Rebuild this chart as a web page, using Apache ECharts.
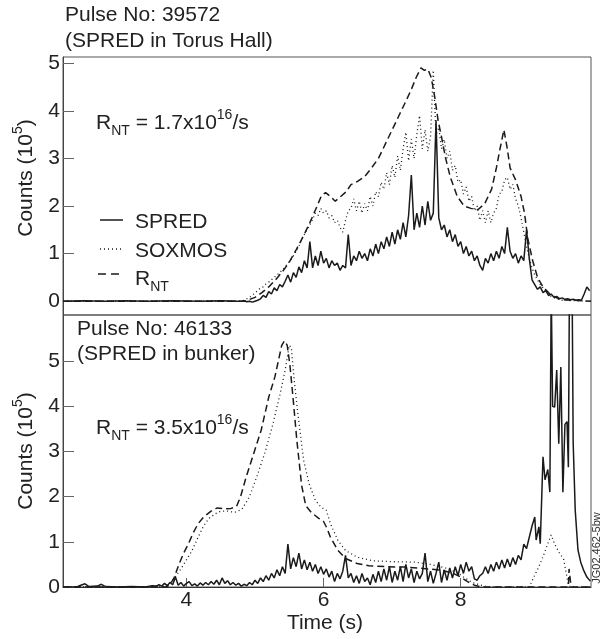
<!DOCTYPE html>
<html><head><meta charset="utf-8">
<script src="https://cdn.jsdelivr.net/npm/echarts@6/dist/echarts.min.js"></script>
<style>html,body{margin:0;padding:0;background:#fff}#c{width:602px;height:639px}</style>
</head><body><div id="c"></div>
<script>
// ---------- DATA (counts in 1e5, time in s) ----------
const xTicks = [4, 6, 8];
const yTicksTop = [0, 1, 2, 3, 4, 5];
const yTicksBot = [0, 1, 2, 3, 4, 5];

// Top panel, pulse 39572
const sprTopLead = [[2.2,0.00],[2.5,0.01],[2.8,0.00],[3.1,0.01],[3.4,0.00],[3.8,0.01],[4.2,0.00],[4.5,0.01],[4.76,0.00]];
const sprTopT0 = 4.80, sprTopDt = 0.04;
const sprTopVals = [
 0.00,0.01,-0.01,0.00,-0.02,0.00,0.02,0.05,0.12,0.08,
 0.20,0.15,0.28,0.22,0.35,0.30,0.42,0.55,0.40,0.60,
 0.50,0.72,0.60,0.85,0.70,1.25,0.70,0.95,0.75,1.05,
 0.80,0.90,0.70,0.85,0.75,0.80,0.65,0.75,0.70,1.40,
 0.75,0.95,0.85,1.05,0.90,1.00,0.85,1.10,0.95,1.20,
 1.00,1.25,1.10,1.35,1.15,1.45,1.20,1.50,1.30,1.65,
 1.35,1.80,2.65,1.50,1.85,1.55,2.00,1.60,2.10,1.70,
 1.85,3.80,1.75,1.50,1.60,1.35,1.50,1.25,1.40,1.15,
 1.25,1.00,1.15,0.95,1.05,0.85,0.95,0.75,0.65,0.90,
 0.80,1.00,0.85,1.05,0.90,1.15,1.00,1.55,1.05,0.90,
 1.00,0.80,0.95,0.85,1.50,0.90,0.45,0.35,0.25,0.30,
 0.18,0.22,0.12,0.15,0.08,0.10,0.05,0.07,0.04,0.05,
 0.03,0.04,0.02,0.03,0.02,0.15,0.30,0.22
];
const soxTopLead = [[2.2,0.00],[4.76,0.00]];
const soxTopT0 = 4.80, soxTopDt = 0.04;
const soxTopVals = [
 0.00,0.02,0.05,0.08,0.12,0.18,0.22,0.28,0.30,0.36,
 0.40,0.45,0.50,0.55,0.60,0.66,0.72,0.80,0.86,0.95,
 1.05,1.15,1.30,1.40,1.50,1.60,1.72,1.85,1.80,1.95,
 1.85,1.90,1.75,1.80,1.65,1.70,1.55,1.45,1.70,1.90,
 1.95,2.15,1.90,2.10,1.85,2.05,1.90,2.20,2.00,2.30,
 2.20,2.50,2.35,2.70,2.45,2.85,2.60,3.05,2.75,3.20,
 3.55,2.95,3.40,3.00,3.50,3.90,3.20,3.60,3.15,3.45,
 4.85,3.50,3.65,3.20,3.40,3.00,3.15,2.75,2.85,2.50,
 2.55,2.25,2.40,2.10,2.20,1.90,2.00,1.70,1.90,1.65,
 1.90,1.65,1.85,1.95,2.25,2.30,2.55,2.60,2.35,2.45,
 2.15,2.00,1.75,1.45,1.15,0.90,0.70,0.55,0.45,0.35,
 0.28,0.20,0.15,0.10,0.07,0.05,0.03,0.02
];
const soxTopTail = [[9.9,0.00]];
const rntTop = [[2.2,0],[4.85,0],[5.0,0.08],[5.1,0.18],[5.2,0.3],[5.3,0.45],[5.4,0.62],[5.5,0.82],[5.6,1.08],
 [5.7,1.35],[5.8,1.65],[5.9,1.98],[5.97,2.22],[6.03,2.28],[6.1,2.2],[6.17,2.1],[6.25,2.2],[6.33,2.3],[6.4,2.45],
 [6.5,2.52],[6.6,2.62],[6.7,2.8],[6.8,3.0],[6.9,3.3],[7.0,3.6],[7.1,3.9],[7.2,4.2],[7.28,4.45],[7.35,4.7],
 [7.42,4.9],[7.47,4.85],[7.52,4.88],[7.57,4.7],[7.62,4.3],[7.67,3.8],[7.72,3.45],[7.78,3.0],[7.85,2.6],
 [7.95,2.2],[8.05,2.0],[8.15,1.95],[8.25,1.92],[8.35,2.05],[8.45,2.35],[8.52,2.8],[8.58,3.25],[8.63,3.6],
 [8.68,3.2],[8.72,2.8],[8.8,2.55],[8.88,2.2],[8.93,1.85],[8.98,1.3],[9.05,0.85],[9.12,0.5],[9.2,0.3],
 [9.3,0.15],[9.4,0.07],[9.5,0.03],[9.9,0.0]];

// Bottom panel, pulse 46133
const sprBotLead = [[2.2,0.00],[2.4,0.00],[2.46,0.04],[2.52,0.07],[2.58,0.01],[2.7,0.02],[2.76,0.06],[2.82,0.01],
 [3.0,0.00],[3.2,0.01],[3.4,0.00],[3.5,0.03]];
const sprBotT0 = 3.56, sprBotDt = 0.04;
const sprBotVals = [
 0.02,0.05,0.02,0.08,0.03,0.10,0.05,0.22,0.04,0.10,
 0.02,0.08,0.12,0.03,0.07,0.02,0.09,0.04,0.10,0.05,
 0.12,0.06,0.15,0.05,0.20,0.08,0.14,0.05,0.10,0.04,
 0.08,0.02,0.06,0.03,0.10,0.05,0.15,0.08,0.20,0.12,
 0.25,0.15,0.30,0.20,0.38,0.25,0.45,0.30,0.95,0.40,
 0.65,0.45,0.75,0.40,0.60,0.38,0.55,0.35,0.50,0.30,
 0.45,0.28,0.40,0.22,0.35,0.12,0.30,0.18,0.35,0.70,
 0.20,0.30,0.10,0.25,0.08,0.30,0.12,0.20,0.05,0.28,
 0.10,0.35,0.12,0.40,0.15,0.45,0.10,0.35,0.15,0.45,
 0.12,0.50,0.20,0.40,0.10,0.35,0.18,0.30,0.75,0.12,
 0.35,0.08,0.30,0.55,0.10,0.38,0.15,0.42,0.20,0.45,
 0.25,0.50,0.30,0.55,0.35,0.45,0.18,0.15,0.25,0.30,
 0.45,0.30,0.50,0.35,0.55,0.40,0.60,0.42,0.62,0.45,
 0.65,0.50,0.70,0.60,0.95,0.85,1.10,1.35
];
const sprBotTail = [[9.08,1.55],[9.10,1.04],[9.14,1.33],[9.16,0.96],[9.20,2.88],[9.23,2.37],[9.27,2.60],[9.30,2.10],
 [9.32,6.6],[9.34,4.0],[9.37,3.98],[9.40,4.80],[9.43,3.17],[9.46,4.87],[9.49,2.10],[9.52,3.60],[9.55,3.66],
 [9.57,2.65],[9.585,6.6],[9.625,6.6],[9.64,3.2],[9.67,1.7],[9.71,0.82],[9.75,0.55],[9.79,0.38],[9.84,0.22],[9.89,0.13]];
const soxBot = [[2.2,0],[3.65,0],[3.72,0.05],[3.8,0.15],[3.92,0.4],[4.0,0.6],[4.08,0.8],[4.17,1.1],[4.25,1.35],
 [4.33,1.52],[4.42,1.62],[4.5,1.68],[4.6,1.68],[4.7,1.65],[4.81,1.72],[4.92,2.0],[5.04,2.5],[5.15,3.0],[5.26,3.6],
 [5.37,4.3],[5.44,4.8],[5.5,5.35],[5.53,5.3],[5.57,4.6],[5.62,3.9],[5.71,2.8],[5.79,2.28],[5.88,1.92],[5.96,1.77],
 [6.04,1.7],[6.1,1.4],[6.21,1.03],[6.32,0.81],[6.49,0.66],[6.72,0.58],[7.0,0.56],[7.33,0.55],[7.56,0.5],
 [7.78,0.42],[7.95,0.32],[8.06,0.2],[8.17,0.1],[8.34,0.02],[8.4,0],[9.0,0.0],[9.06,0.2],[9.14,0.45],[9.22,0.75],
 [9.28,1.0],[9.32,1.15],[9.37,0.95],[9.44,0.75],[9.5,0.62],[9.54,0.3],[9.57,0.05],[9.6,0],[9.9,0]];
const rntBot = [[2.2,0],[3.7,0],[3.76,0.05],[3.82,0.2],[3.89,0.5],[3.96,0.75],[4.03,0.96],[4.1,1.2],[4.17,1.4],
 [4.25,1.55],[4.36,1.68],[4.45,1.75],[4.55,1.73],[4.65,1.74],[4.73,1.78],[4.79,2.0],[4.87,2.43],[4.98,2.95],
 [5.09,3.47],[5.2,4.2],[5.29,4.65],[5.34,5.0],[5.39,5.35],[5.43,5.45],[5.47,5.35],[5.51,4.9],[5.56,4.1],
 [5.61,3.25],[5.68,2.25],[5.74,1.8],[5.82,1.65],[5.93,1.52],[6.0,1.45],[6.05,1.3],[6.1,1.1],[6.21,0.81],
 [6.32,0.63],[6.49,0.52],[6.66,0.47],[6.9,0.45],[7.2,0.44],[7.45,0.41],[7.73,0.37],[7.89,0.3],[8.0,0.22],
 [8.1,0.12],[8.2,0.04],[8.3,0.0],[9.57,0.0],[9.58,0.4],[9.6,0.4],[9.61,0.0],[9.9,0]];

// ---------- BUILD ----------
function grid(t0, dt, vals) { return vals.map((v, i) => [+(t0 + i * dt).toFixed(3), v]); }
const sprTop = sprTopLead.concat(grid(sprTopT0, sprTopDt, sprTopVals));
const soxTop = soxTopLead.concat(grid(soxTopT0, soxTopDt, soxTopVals), soxTopTail);
const sprBot = sprBotLead.concat(grid(sprBotT0, sprBotDt, sprBotVals), sprBotTail);

const FONT = '"Liberation Sans", Arial, Helvetica, sans-serif';
const INK = '#1a1a1a';
const chart = echarts.init(document.getElementById('c'), null, {renderer: 'canvas'});

function yAxis(gi, min, max, ticks) {
  return {
    type: 'value', gridIndex: gi, min: min, max: max,
    axisLine: {show: true, lineStyle: {color: '#444', width: 1}},
    axisTick: {show: true, inside: true, length: 11, customValues: ticks, lineStyle: {color: '#666'}},
    axisLabel: {show: true, customValues: ticks, fontSize: 21, fontFamily: FONT, color: '#222', margin: 3},
    splitLine: {show: false}
  };
}
const rich = {
  a: {fontSize: 21, fontFamily: FONT, lineHeight: 30, verticalAlign: 'middle', fill: '#222', color: '#222'},
  s: {fontSize: 14, fontFamily: FONT, lineHeight: 14, verticalAlign: 'bottom', fill: '#222', color: '#222'},
  p: {fontSize: 14, fontFamily: FONT, lineHeight: 14, verticalAlign: 'top', fill: '#222', color: '#222'}
};
function txt(x, y, text, extra) {
  return Object.assign({type: 'text', x: x, y: y, z: 100, style: {
    text: text, fontSize: 21, fontFamily: FONT, fill: '#222',
    align: 'left', textAlign: 'left', verticalAlign: 'middle', textVerticalAlign: 'middle', rich: rich
  }}, extra || {});
}
function line(x1, y1, x2, y2, dash, w) {
  return {type: 'line', z: 100, shape: {x1: x1, y1: y1, x2: x2, y2: y2},
    style: {stroke: INK, lineWidth: w || 1.4, lineDash: dash || null}};
}
function ser(xi, data, style) {
  return {type: 'line', xAxisIndex: xi, yAxisIndex: xi, data: data, showSymbol: false, symbol: 'none',
    clip: true, animation: false, lineStyle: Object.assign({color: INK, width: 1.3}, style)};
}

const option = {
  backgroundColor: '#fff',
  animation: false,
  grid: [
    {left: 63, top: 57, width: 528, height: 258, show: true, borderColor: '#555', borderWidth: 1, containLabel: false},
    {left: 63, top: 315, width: 528, height: 272, show: true, borderColor: '#555', borderWidth: 1, containLabel: false}
  ],
  xAxis: [
    {type: 'value', gridIndex: 0, min: 2.2, max: 9.9, axisLine: {show: false}, axisTick: {show: false},
     axisLabel: {show: false}, splitLine: {show: false}},
    {type: 'value', gridIndex: 1, min: 2.2, max: 9.9,
     axisLine: {show: true, onZero: false, lineStyle: {color: '#333'}},
     axisTick: {show: true, inside: true, length: 9, customValues: xTicks, lineStyle: {color: '#666'}},
     axisLabel: {show: true, customValues: xTicks, fontSize: 21, fontFamily: FONT, color: '#222', margin: 3},
     splitLine: {show: false}}
  ],
  yAxis: [yAxis(0, -0.29, 5.13, yTicksTop), yAxis(1, 0, 6.02, yTicksBot)],
  series: [
    ser(0, rntTop, {type: [7, 4], width: 1.5}),
    ser(0, soxTop, {type: [1, 3], width: 1.3}),
    ser(0, sprTop, {width: 1.5}),
    ser(1, rntBot, {type: [7, 4], width: 1.5}),
    ser(1, soxBot, {type: [1, 3], width: 1.3}),
    ser(1, sprBot, {width: 1.5})
  ],
  graphic: [
    txt(65, 15, 'Pulse No: 39572'),
    txt(65, 41, '(SPRED in Torus Hall)'),
    txt(96, 123, '{a|R}{s|NT}{a| = 1.7x10}{p|16}{a|/s}'),
    line(100, 220, 123, 220, null, 1.5),
    line(100, 249, 124, 249, [1, 3], 1.3),
    line(98, 274, 124, 274, [8, 5], 1.5),
    txt(135, 222, 'SPRED'),
    txt(135, 251, 'SOXMOS'),
    txt(135, 279, '{a|R}{s|NT}'),
    txt(77, 329, 'Pulse No: 46133'),
    txt(77, 354, '(SPRED in bunker)'),
    txt(96, 428, '{a|R}{s|NT}{a| = 3.5x10}{p|16}{a|/s}'),
    txt(26, 178, '', {rotation: Math.PI / 2,
      style: {text: '{a|Counts (10}{p|5}{a|)}', fontSize: 21, fontFamily: FONT, fill: '#222', align: 'center',
        textAlign: 'center', verticalAlign: 'middle', textVerticalAlign: 'middle', rich: rich}}),
    txt(26, 451, '', {rotation: Math.PI / 2,
      style: {text: '{a|Counts (10}{p|5}{a|)}', fontSize: 21, fontFamily: FONT, fill: '#222', align: 'center',
        textAlign: 'center', verticalAlign: 'middle', textVerticalAlign: 'middle', rich: rich}}),
    txt(325, 623, '', {style: {text: 'Time (s)', fontSize: 21, fontFamily: FONT, fill: '#222', align: 'center',
        textAlign: 'center', verticalAlign: 'middle', textVerticalAlign: 'middle'}}),
    txt(597, 548, '', {rotation: Math.PI / 2, style: {text: 'JG02.462-5bw', fontSize: 11, fontFamily: FONT,
        fill: '#333', align: 'center', textAlign: 'center', verticalAlign: 'middle', textVerticalAlign: 'middle'}})
  ]
};
chart.setOption(option);
</script></body></html>
